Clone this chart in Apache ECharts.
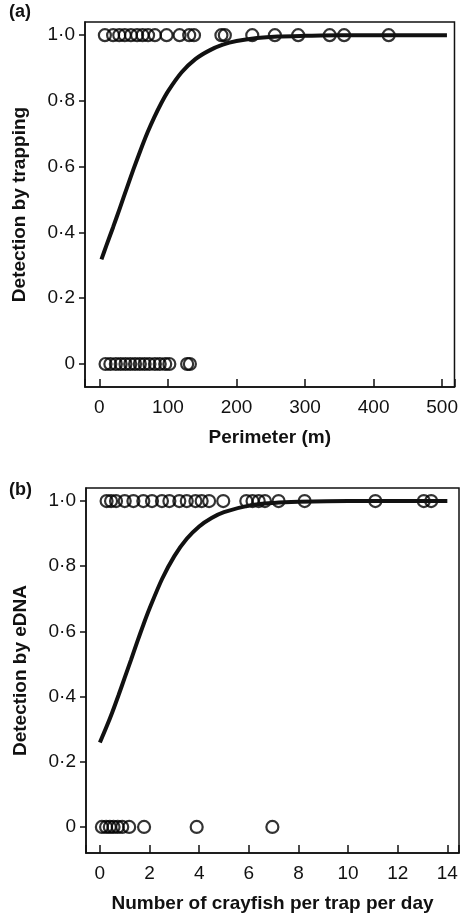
<!DOCTYPE html>
<html>
<head>
<meta charset="utf-8">
<script src="https://cdn.jsdelivr.net/npm/echarts@6/dist/echarts.min.js"></script>
<style>
  html, body { margin: 0; padding: 0; background: #fff; }
  #chart { width: 461px; height: 914px; }
</style>
</head>
<body>
<div id="chart"></div>
<script>
// panel (a): detection by trapping vs perimeter (m)
var perimDetected = [8, 20, 29, 37, 46, 55, 63, 71, 81, 98, 117, 131, 138, 178, 183, 223, 256, 290, 336, 357, 422];
var perimMissed = [9, 16, 24, 31, 38, 45, 52, 59, 66, 73, 81, 88, 96, 102, 128, 132];
var fitPerimX = [3, 10, 20, 30, 40, 50, 60, 70, 80, 90, 100, 120, 140, 160, 180, 200, 230, 260, 300, 350, 400, 450, 507];
var fitPerimY = [0.318, 0.359, 0.416, 0.475, 0.535, 0.594, 0.650, 0.703, 0.750, 0.792, 0.829, 0.887, 0.927, 0.953, 0.971, 0.982, 0.991, 0.9956, 0.998, 1.0, 1.0, 1.0, 1.0];
var perimTicks = [0, 100, 200, 300, 400, 500];

// panel (b): detection by eDNA vs crayfish per trap per day
var cpueDetected = [0.27, 0.45, 0.65, 1.0, 1.35, 1.75, 2.1, 2.5, 2.8, 3.2, 3.5, 3.85, 4.1, 4.4, 4.97, 5.9, 6.15, 6.4, 6.65, 7.2, 8.25, 11.1, 13.05, 13.35];
var cpueMissed = [0.08, 0.25, 0.4, 0.55, 0.72, 0.9, 1.18, 1.78, 3.9, 6.95];
var fitCpueX = [0, 0.25, 0.5, 0.75, 1, 1.25, 1.5, 1.75, 2, 2.5, 3, 3.5, 4, 4.5, 5, 6, 7, 8, 10, 12, 14];
var fitCpueY = [0.259, 0.304, 0.352, 0.404, 0.458, 0.512, 0.567, 0.620, 0.670, 0.760, 0.831, 0.884, 0.922, 0.948, 0.966, 0.986, 0.994, 0.9975, 1.0, 1.0, 1.0];
var cpueTicks = [0, 2, 4, 6, 8, 10, 12, 14];

var probTicks = [0, 0.2, 0.4, 0.6, 0.8, 1.0];

var FONT = "'Liberation Sans', Arial, sans-serif";
var INK = '#111';

function pts(xs, y) {
  return xs.map(function (x) { return [x, y]; });
}
function pairs(xs, ys) {
  return xs.map(function (x, i) { return [x, ys[i]]; });
}

var tickLine = { color: INK, width: 1.5 };

function xAxisFor(idx, min, max, ticks, name, splitNumber) {
  return {
    type: 'value', gridIndex: idx, min: min, max: max, splitNumber: splitNumber,
    name: name, nameLocation: 'middle', nameGap: 41,
    nameTextStyle: { fontFamily: FONT, fontSize: 19, fontWeight: 'bold', color: INK },
    axisLine: { show: true, onZero: false, lineStyle: { color: INK, width: 1.5 } },
    axisTick: { show: true, inside: true, length: 8, lineStyle: tickLine },
    axisLabel: { customValues: ticks, margin: 11, fontFamily: FONT, fontSize: 19, color: INK },
    splitLine: { show: false }
  };
}
// inner ticks on the box edge don't draw here, so the y ticks sit just outside
function yAxisFor(idx, min, max, name) {
  return {
    type: 'value', gridIndex: idx, min: min, max: max,
    name: name, nameLocation: 'middle', nameGap: 56,
    nameTextStyle: { fontFamily: FONT, fontSize: 19, fontWeight: 'bold', color: INK },
    axisLine: { show: true, onZero: false, lineStyle: { color: INK, width: 1.5 } },
    axisTick: { show: true, inside: false, length: 6, customValues: probTicks, lineStyle: tickLine },
    axisLabel: {
      customValues: probTicks, margin: 10, fontFamily: FONT, fontSize: 19, color: INK,
      formatter: function (v) { return v === 0 ? '0' : v.toFixed(1).replace('.', '\u00b7'); }
    },
    splitLine: { show: false }
  };
}

var circleStyle = { color: 'rgba(0,0,0,0)', borderColor: '#000', borderWidth: 2.2 };
function scatter(idx, data) {
  return {
    type: 'scatter', xAxisIndex: idx, yAxisIndex: idx, data: data,
    symbol: 'circle', symbolSize: 12, itemStyle: circleStyle, silent: true
  };
}
function curve(idx, data) {
  return {
    type: 'line', xAxisIndex: idx, yAxisIndex: idx, data: data, smooth: 0.3,
    showSymbol: false, lineStyle: { color: INK, width: 4 }, z: 3, silent: true
  };
}

var chart = echarts.init(document.getElementById('chart'), null, { renderer: 'canvas' });
chart.setOption({
  backgroundColor: '#fff',
  animation: false,
  grid: [
    { left: 85, top: 22, width: 374, height: 365, show: true, borderColor: INK, borderWidth: 1.5 },
    { left: 86, top: 488, width: 373, height: 365, show: true, borderColor: INK, borderWidth: 1.5 }
  ],
  xAxis: [
    xAxisFor(0, -21, 518, perimTicks, 'Perimeter (m)', 5),
    xAxisFor(1, -0.56, 14.47, cpueTicks, 'Number of crayfish per trap per day', 7)
  ],
  yAxis: [
    yAxisFor(0, -0.07, 1.04, 'Detection by trapping'),
    yAxisFor(1, -0.08, 1.04, 'Detection by eDNA')
  ],
  graphic: [
    { type: 'text', left: 9, top: 3, style: { text: '(a)', font: "bold 18px 'Liberation Sans', Arial", fill: INK } },
    { type: 'text', left: 9, top: 481, style: { text: '(b)', font: "bold 18px 'Liberation Sans', Arial", fill: INK } }
  ],
  series: [
    scatter(0, pts(perimDetected, 1)),
    scatter(0, pts(perimMissed, 0)),
    curve(0, pairs(fitPerimX, fitPerimY)),
    scatter(1, pts(cpueDetected, 1)),
    scatter(1, pts(cpueMissed, 0)),
    curve(1, pairs(fitCpueX, fitCpueY))
  ]
});
</script>
</body>
</html>
